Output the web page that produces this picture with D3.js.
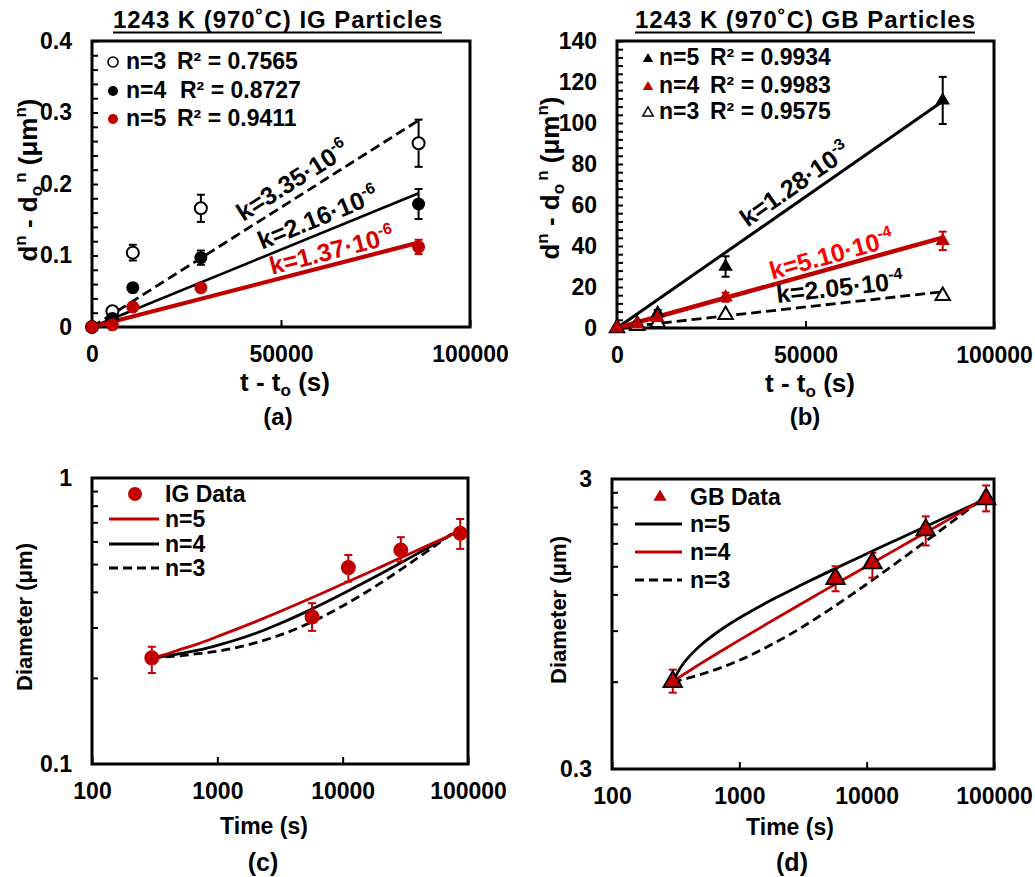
<!DOCTYPE html>
<html><head><meta charset="utf-8">
<script src="https://cdn.jsdelivr.net/npm/d3@7"></script>
<style>
body{margin:0;background:#fff}
svg{display:block}
text{font-family:"Liberation Sans",Arial,Helvetica,sans-serif;font-weight:bold;fill:#000}
</style>
</head><body>
<svg id="chart" width="1035" height="877"></svg>
<script>
// ---------------- DATA ----------------
// Panel (a): IG particles, d^n - d0^n vs t - t0
const tRel = [0, 5400, 10800, 28800, 86400];
const aN3 = [0, 0.022, 0.104, 0.166, 0.257];
const aN3Err = [0, 0.006, 0.011, 0.019, 0.033];
const aN4 = [0, 0.012, 0.055, 0.097, 0.172];
const aN4Err = [0, 0, 0, 0.010, 0.021];
const aN5 = [0, 0.003, 0.028, 0.055, 0.112];
const aN5Err = [0, 0, 0, 0.003, 0.010];
const fitT = [0, 86400];
const aFitN3 = [0, 0.289];
const aFitN4 = [0, 0.187];
const aFitN5 = [0, 0.118];
const aYTicks = [0, 0.1, 0.2, 0.3, 0.4];
const aYMinor = [0, 0.02, 0.04, 0.06, 0.08, 0.1, 0.12, 0.14, 0.16, 0.18, 0.2, 0.22, 0.24, 0.26, 0.28, 0.3, 0.32, 0.34, 0.36, 0.38, 0.4];
const linXTicks = [0, 50000, 100000];
const aLegendN = ['n=3', 'n=4', 'n=5'];
const aLegendR2 = ['R² = 0.7565', 'R² = 0.8727', 'R² = 0.9411'];
const aKText = ['k=3.35·10', 'k=2.16·10', 'k=1.37·10'];
const aKExp = ['-6', '-6', '-6'];
const aKPos = [[40000, 0.147], [45000, 0.108], [47600, 0.073]];

// Panel (b): GB particles
const bN5 = [0, 2.5, 7.3, 30, 111];
const bN5Err = [0, 0.8, 1.5, 5, 11.5];
const bN4 = [0, 1.8, 4.9, 15, 42.5];
const bN4Err = [0, 0.5, 1, 2.2, 4.5];
const bN3 = [0, 1, 2.5, 6.4, 15.7];
const bN3Err = [0, 0.3, 0.5, 0.8, 1];
const bFitN5 = [0, 110.6];
const bFitN4 = [0, 44.1];
const bFitN3 = [0, 17.7];
const bYTicks = [0, 20, 40, 60, 80, 100, 120, 140];
const bYMinor = [0, 4, 8, 12, 16, 20, 24, 28, 32, 36, 40, 44, 48, 52, 56, 60, 64, 68, 72, 76, 80, 84, 88, 92, 96, 100, 104, 108, 112, 116, 120, 124, 128, 132, 136, 140];
const bLegendN = ['n=5', 'n=4', 'n=3'];
const bLegendR2 = ['R² = 0.9934', 'R² = 0.9983', 'R² = 0.9575'];
const bKText = ['k=1.28·10', 'k=5.10·10', 'k=2.05·10'];
const bKExp = ['-3', '-4', '-4'];
const bKPos = [[34600, 48.9], [41200, 23.5], [42500, 12.2]];

// Panels (c), (d): diameter vs time (log-log)
const tAbs = [300, 5700, 11100, 29100, 86700];
const cIG = [0.235, 0.327, 0.486, 0.560, 0.641];
const cIGLo = [0.208, 0.292, 0.434, 0.510, 0.565];
const cIGHi = [0.257, 0.365, 0.538, 0.621, 0.719];
const dGB = [0.60, 1.36, 1.54, 2.00, 2.56];
const dGBLo = [0.55, 1.23, 1.37, 1.77, 2.32];
const dGBHi = [0.66, 1.50, 1.67, 2.23, 2.85];
const modelT = [300, 350, 400, 500, 700, 1000, 2000, 3000, 5000, 7000, 10000, 15000, 20000, 30000, 50000, 86700];
const cModelN5 = [0.235, 0.239, 0.243, 0.251, 0.263, 0.279, 0.314, 0.338, 0.372, 0.397, 0.426, 0.461, 0.488, 0.529, 0.586, 0.653];
const cModelN4 = [0.235, 0.237, 0.239, 0.243, 0.250, 0.260, 0.286, 0.307, 0.339, 0.364, 0.394, 0.432, 0.462, 0.509, 0.576, 0.660];
const cModelN3 = [0.235, 0.236, 0.237, 0.239, 0.243, 0.248, 0.265, 0.280, 0.306, 0.328, 0.357, 0.396, 0.429, 0.483, 0.564, 0.671];
const dModelN5 = [0.600, 0.677, 0.729, 0.803, 0.900, 0.995, 1.177, 1.287, 1.435, 1.540, 1.657, 1.800, 1.908, 2.071, 2.295, 2.563];
const dModelN4 = [0.600, 0.628, 0.652, 0.694, 0.760, 0.835, 0.999, 1.108, 1.261, 1.372, 1.501, 1.662, 1.786, 1.977, 2.247, 2.578];
const dModelN3 = [0.600, 0.609, 0.618, 0.636, 0.668, 0.711, 0.827, 0.916, 1.057, 1.167, 1.302, 1.478, 1.620, 1.847, 2.183, 2.620];
const logXTicks = [100, 1000, 10000, 100000];
const cYTicks = [0.1, 1];
const cYMinor = [0.2, 0.3, 0.4, 0.5, 0.6, 0.7, 0.8, 0.9];
const dYTicks = [0.3, 3];
const dYMinor = [0.6, 0.9, 1.2, 1.5, 1.8, 2.1, 2.4, 2.7];

// ---------------- DRAWING ----------------
const RED = '#c00000';
const TXT = 23;
const svg = d3.select('#chart');
svg.append('rect').attr('width', 1035).attr('height', 877).attr('fill', '#fff');

function rich(parent, segs, size) {
  const t = parent.append('text').attr('font-size', size);
  let cur = 0;
  segs.forEach(([s, k, dx]) => {
    const off = k === 'sup' ? -0.42 * size : (k === 'sub' ? 0.18 * size : 0);
    const ts = t.append('tspan').attr('dy', off - cur).text(s);
    if (k) ts.attr('font-size', Math.round(size * 0.65));
    if (dx) ts.attr('dx', dx);
    cur = off;
  });
  return t;
}

function styleAxis(sel, size) {
  sel.select('.domain').remove();
  sel.selectAll('line').attr('stroke', '#000').attr('stroke-width', 2);
  sel.selectAll('text').attr('font-size', size).attr('fill', '#000')
    .attr('font-family', '"Liberation Sans",Arial,sans-serif').attr('font-weight', 'bold');
}

function panel(o) {
  const g = svg.append('g');
  const x = o.log ? d3.scaleLog().domain(o.xDom).range([o.L, o.R]) : d3.scaleLinear().domain(o.xDom).range([o.L, o.R]);
  const y = o.log ? d3.scaleLog().domain(o.yDom).range([o.B, o.T]) : d3.scaleLinear().domain(o.yDom).range([o.B, o.T]);
  g.append('g').attr('transform', `translate(${o.L},0)`)
    .call(d3.axisLeft(y).tickValues(o.yMinor).tickSize(-6).tickFormat(''))
    .call(s => styleAxis(s, TXT));
  g.append('g').attr('transform', `translate(${o.L},0)`)
    .call(d3.axisLeft(y).tickValues(o.yTicks).tickSize(0).tickPadding(20).tickFormat(o.yFmt))
    .call(s => styleAxis(s, TXT));
  g.append('g').attr('transform', `translate(0,${o.B})`)
    .call(d3.axisBottom(x).tickValues(o.xTicks).tickSize(-7).tickPadding(19).tickFormat(d3.format('d')))
    .call(s => styleAxis(s, TXT));
  g.append('rect').attr('x', o.L).attr('y', o.T).attr('width', o.R - o.L).attr('height', o.B - o.T)
    .attr('fill', 'none').attr('stroke', '#000').attr('stroke-width', 3);
  return { g, x, y };
}

function errBars(g, x, y, ts, lo, hi, color) {
  ts.forEach((t, i) => {
    if (hi[i] - lo[i] <= 0) return;
    const px = x(t), y1 = y(lo[i]), y2 = y(hi[i]);
    g.append('line').attr('x1', px).attr('x2', px).attr('y1', y1).attr('y2', y2).attr('stroke', color).attr('stroke-width', 2);
    [y1, y2].forEach(yy => g.append('line').attr('x1', px - 4).attr('x2', px + 4).attr('y1', yy).attr('y2', yy).attr('stroke', color).attr('stroke-width', 2));
  });
}

function circles(g, x, y, ts, vs, r, fill, stroke) {
  ts.forEach((t, i) => g.append('circle').attr('cx', x(t)).attr('cy', y(vs[i])).attr('r', r)
    .attr('fill', fill).attr('stroke', stroke || 'none').attr('stroke-width', stroke ? 2 : 0));
}
function triangles(g, x, y, ts, vs, size, fill, stroke, sw) {
  const sym = d3.symbol().type(d3.symbolTriangle).size(size);
  ts.forEach((t, i) => g.append('path').attr('d', sym()).attr('transform', `translate(${x(t)},${y(vs[i])})`)
    .attr('fill', fill).attr('stroke', stroke || 'none').attr('stroke-width', sw || 0));
}
function fitLine(g, x, y, ts, vs, color, w, dash) {
  const p = g.append('path').attr('d', d3.line().x(d => x(d[0])).y(d => y(d[1]))(ts.map((t, i) => [t, vs[i]])))
    .attr('fill', 'none').attr('stroke', color).attr('stroke-width', w);
  if (dash) p.attr('stroke-dasharray', dash);
}
function kLabel(g, x, y, pos, txt, exp, fitVs, color, size) {
  const ang = Math.atan2(y(fitVs[0]) - y(fitVs[1]), x(fitT[1]) - x(fitT[0])) * 180 / Math.PI;
  const t = rich(g, [[txt], [exp, 'sup']], size).attr('fill', color)
    .attr('transform', `translate(${x(pos[0])},${y(pos[1])}) rotate(${-ang})`);
  t.selectAll('tspan').attr('fill', color);
}
function title(g, cx, txt, len) {
  g.append('text').attr('x', cx).attr('y', 28).attr('text-anchor', 'middle').attr('font-size', 24)
    .attr('textLength', len).attr('lengthAdjust', 'spacing').text(txt);
  g.append('line').attr('x1', cx - len / 2).attr('x2', cx + len / 2).attr('y1', 32.5).attr('y2', 32.5)
    .attr('stroke', '#000').attr('stroke-width', 2);
}

// ===== Panel (a) =====
{
  const { g, x, y } = panel({ L: 92, R: 470, T: 41, B: 327, xDom: [0, 100000], yDom: [0, 0.4],
    yMinor: aYMinor, yTicks: aYTicks, yFmt: d => d === 0 ? '0' : d3.format('.1f')(d), xTicks: linXTicks });
  title(g, 277.5, '1243 K (970˚C) IG Particles', 329);
  fitLine(g, x, y, fitT, aFitN3, '#000', 2.8, '10,5');
  fitLine(g, x, y, fitT, aFitN4, '#000', 2.6);
  fitLine(g, x, y, fitT, aFitN5, RED, 4.2);
  errBars(g, x, y, tRel, aN3.map((v, i) => v - aN3Err[i]), aN3.map((v, i) => v + aN3Err[i]), '#000');
  errBars(g, x, y, tRel, aN4.map((v, i) => v - aN4Err[i]), aN4.map((v, i) => v + aN4Err[i]), '#000');
  errBars(g, x, y, tRel, aN5.map((v, i) => v - aN5Err[i]), aN5.map((v, i) => v + aN5Err[i]), RED);
  circles(g, x, y, tRel, aN3, 6, '#fff', '#000');
  circles(g, x, y, tRel, aN4, 6.5, '#000');
  circles(g, x, y, tRel, aN5, 6.5, RED);
  const rows = [69, 98, 126];
  const mk = [['#fff', '#000'], ['#000', null], [RED, null]];
  rows.forEach((ry, i) => {
    g.append('circle').attr('cx', 113).attr('cy', ry - 7).attr('r', 5).attr('fill', mk[i][0])
      .attr('stroke', mk[i][1] || 'none').attr('stroke-width', 1.6);
    g.append('text').attr('x', 126).attr('y', ry).attr('font-size', TXT).text(aLegendN[i]);
    g.append('text').attr('x', i === 1 ? 180 : 177).attr('y', ry).attr('font-size', TXT).text(aLegendR2[i]);
  });
  const fits = [aFitN3, aFitN4, aFitN5];
  const kCol = ['#000', '#000', '#d40000'];
  aKPos.forEach((p, i) => kLabel(g, x, y, p, aKText[i], aKExp[i], fits[i], kCol[i], 25));
  rich(g, [['d'], ['n', 'sup'], [' - d'], ['o', 'sub'], ['n', 'sup', 3], [' (μm'], ['n', 'sup'], [')']], 26)
    .attr('text-anchor', 'middle').attr('transform', 'translate(37,180) rotate(-90)');
  rich(g, [['t - t'], ['o', 'sub'], [' (s)']], 26).attr('text-anchor', 'middle').attr('x', 285).attr('y', 391);
  g.append('text').attr('x', 278).attr('y', 425).attr('text-anchor', 'middle').attr('font-size', 24).text('(a)');
}

// ===== Panel (b) =====
{
  const { g, x, y } = panel({ L: 617, R: 994, T: 41, B: 328, xDom: [0, 100000], yDom: [0, 140],
    yMinor: bYMinor, yTicks: bYTicks, yFmt: d3.format('d'), xTicks: linXTicks });
  title(g, 805, '1243 K (970˚C) GB Particles', 340);
  fitLine(g, x, y, fitT, bFitN3, '#000', 2.8, '10,5');
  fitLine(g, x, y, fitT, bFitN5, '#000', 3);
  fitLine(g, x, y, fitT, bFitN4, RED, 4.5);
  errBars(g, x, y, tRel, bN5.map((v, i) => v - bN5Err[i]), bN5.map((v, i) => v + bN5Err[i]), '#000');
  errBars(g, x, y, tRel, bN4.map((v, i) => v - bN4Err[i]), bN4.map((v, i) => v + bN4Err[i]), RED);
  errBars(g, x, y, tRel, bN3.map((v, i) => v - bN3Err[i]), bN3.map((v, i) => v + bN3Err[i]), '#000');
  triangles(g, x, y, tRel, bN3, 90, '#fff', '#000', 2);
  triangles(g, x, y, tRel, bN5, 90, '#000');
  triangles(g, x, y, tRel, bN4, 90, RED);
  const rows = [65, 93, 119];
  const mk = [['#000', null], [RED, null], ['#fff', '#000']];
  const sym = d3.symbol().type(d3.symbolTriangle).size(48);
  rows.forEach((ry, i) => {
    g.append('path').attr('d', sym()).attr('transform', `translate(648,${ry - 6})`).attr('fill', mk[i][0])
      .attr('stroke', mk[i][1] || 'none').attr('stroke-width', 1.5);
    g.append('text').attr('x', 659).attr('y', ry).attr('font-size', TXT).text(bLegendN[i]);
    g.append('text').attr('x', 710).attr('y', ry).attr('font-size', TXT).text(bLegendR2[i]);
  });
  const fits = [bFitN5, bFitN4, bFitN3];
  const kCol = ['#000', '#ff0000', '#000'];
  bKPos.forEach((p, i) => kLabel(g, x, y, p, bKText[i], bKExp[i], fits[i], kCol[i], 25));
  rich(g, [['d'], ['n', 'sup'], [' - d'], ['o', 'sub'], ['n', 'sup', 3], [' (μm'], ['n', 'sup'], [')']], 26)
    .attr('text-anchor', 'middle').attr('transform', 'translate(559,178) rotate(-90)');
  rich(g, [['t - t'], ['o', 'sub'], [' (s)']], 26).attr('text-anchor', 'middle').attr('x', 810).attr('y', 392);
  g.append('text').attr('x', 805).attr('y', 425).attr('text-anchor', 'middle').attr('font-size', 24).text('(b)');
}

// ===== Panel (c) =====
{
  const { g, x, y } = panel({ log: true, L: 92, R: 468, T: 478, B: 764, xDom: [100, 100000], yDom: [0.1, 1],
    yMinor: cYMinor, yTicks: cYTicks, yFmt: d => d === 1 ? '1' : '0.1', xTicks: logXTicks });
  const line = d3.line().x(d => x(d[0])).y(d => y(d[1])).curve(d3.curveMonotoneX);
  const mk = vs => modelT.map((t, i) => [t, vs[i]]);
  g.append('path').attr('d', line(mk(cModelN3))).attr('fill', 'none').attr('stroke', '#000').attr('stroke-width', 2.8).attr('stroke-dasharray', '9,5');
  g.append('path').attr('d', line(mk(cModelN4))).attr('fill', 'none').attr('stroke', '#000').attr('stroke-width', 2.8);
  g.append('path').attr('d', line(mk(cModelN5))).attr('fill', 'none').attr('stroke', RED).attr('stroke-width', 2.8);
  errBars(g, x, y, tAbs, cIGLo, cIGHi, RED);
  circles(g, x, y, tAbs, cIG, 7.5, RED);
  g.append('circle').attr('cx', 135).attr('cy', 494).attr('r', 7).attr('fill', RED);
  g.append('text').attr('x', 165).attr('y', 502).attr('font-size', TXT).text('IG Data');
  const lg = [['n=5', RED, null, 519], ['n=4', '#000', null, 544], ['n=3', '#000', '9,5', 568]];
  lg.forEach(([lab, col, dash, ly]) => {
    const l = g.append('line').attr('x1', 109).attr('x2', 159).attr('y1', ly).attr('y2', ly).attr('stroke', col).attr('stroke-width', 2.8);
    if (dash) l.attr('stroke-dasharray', dash);
    g.append('text').attr('x', 165).attr('y', ly + 8).attr('font-size', TXT).text(lab);
  });
  g.append('text').attr('font-size', 22).attr('text-anchor', 'middle').attr('transform', 'translate(32,617) rotate(-90)').text('Diameter (μm)');
  g.append('text').attr('font-size', 23).attr('text-anchor', 'middle').attr('x', 264).attr('y', 834).text('Time (s)');
  g.append('text').attr('x', 263).attr('y', 871).attr('text-anchor', 'middle').attr('font-size', 25).text('(c)');
}

// ===== Panel (d) =====
{
  const { g, x, y } = panel({ log: true, L: 612, R: 994, T: 479, B: 769, xDom: [100, 100000], yDom: [0.3, 3],
    yMinor: dYMinor, yTicks: dYTicks, yFmt: d => d === 3 ? '3' : '0.3', xTicks: logXTicks });
  const line = d3.line().x(d => x(d[0])).y(d => y(d[1])).curve(d3.curveMonotoneX);
  const mk = vs => modelT.map((t, i) => [t, vs[i]]);
  g.append('path').attr('d', line(mk(dModelN3))).attr('fill', 'none').attr('stroke', '#000').attr('stroke-width', 2.8).attr('stroke-dasharray', '9,5');
  g.append('path').attr('d', line(mk(dModelN5))).attr('fill', 'none').attr('stroke', '#000').attr('stroke-width', 2.8);
  g.append('path').attr('d', line(mk(dModelN4))).attr('fill', 'none').attr('stroke', RED).attr('stroke-width', 2.8);
  errBars(g, x, y, tAbs, dGBLo, dGBHi, RED);
  triangles(g, x, y, tAbs, dGB, 150, RED, '#000', 1.8);
  const sym = d3.symbol().type(d3.symbolTriangle).size(75);
  g.append('path').attr('d', sym()).attr('transform', 'translate(660,497)').attr('fill', RED);
  g.append('text').attr('x', 690).attr('y', 505).attr('font-size', TXT).text('GB Data');
  const lg = [['n=5', '#000', null, 524], ['n=4', RED, null, 552], ['n=3', '#000', '9,5', 580]];
  lg.forEach(([lab, col, dash, ly]) => {
    const l = g.append('line').attr('x1', 635).attr('x2', 682).attr('y1', ly).attr('y2', ly).attr('stroke', col).attr('stroke-width', 2.8);
    if (dash) l.attr('stroke-dasharray', dash);
    g.append('text').attr('x', 690).attr('y', ly + 8).attr('font-size', TXT).text(lab);
  });
  g.append('text').attr('font-size', 22).attr('text-anchor', 'middle').attr('transform', 'translate(566,610) rotate(-90)').text('Diameter (μm)');
  g.append('text').attr('font-size', 23).attr('text-anchor', 'middle').attr('x', 790).attr('y', 835).text('Time (s)');
  g.append('text').attr('x', 792).attr('y', 871).attr('text-anchor', 'middle').attr('font-size', 25).text('(d)');
}
</script>
</body></html>
